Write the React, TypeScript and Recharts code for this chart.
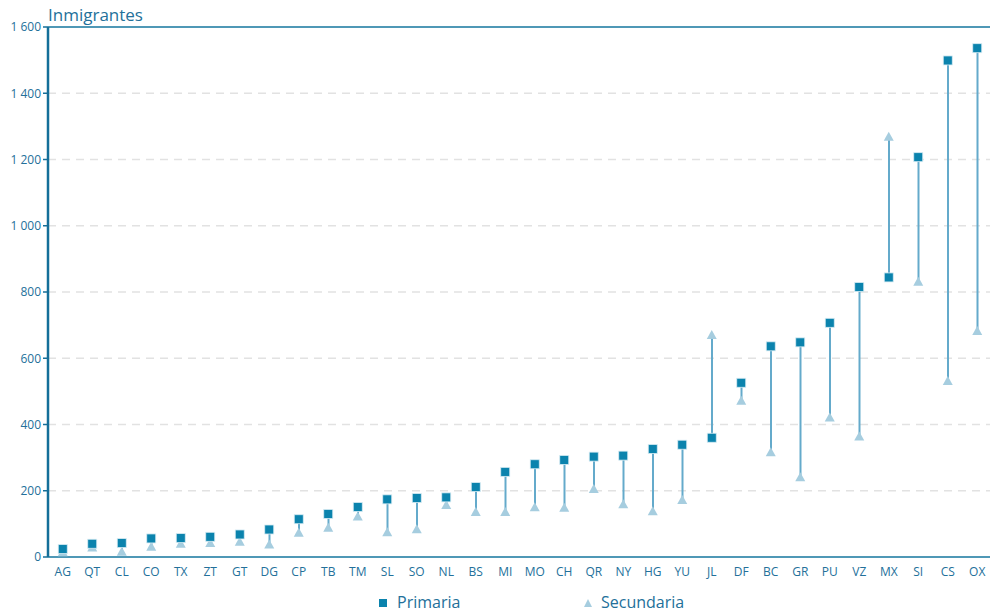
import React from 'react';
import {
  ComposedChart,
  Bar,
  Line,
  XAxis,
  YAxis,
  CartesianGrid,
  ReferenceLine,
} from 'recharts';

// Entidades federativas (orden del eje X)
const estados = [
  'AG', 'QT', 'CL', 'CO', 'TX', 'ZT', 'GT', 'DG', 'CP', 'TB', 'TM', 'SL', 'SO', 'NL', 'BS', 'MI',
  'MO', 'CH', 'QR', 'NY', 'HG', 'YU', 'JL', 'DF', 'BC', 'GR', 'PU', 'VZ', 'MX', 'SI', 'CS', 'OX',
];

// Inmigrantes con primaria
const primaria = [
  24, 40, 42, 56, 57, 61, 68, 83, 114, 130, 151, 174, 178, 180, 211, 257,
  280, 293, 303, 306, 326, 339, 360, 526, 636, 648, 707, 815, 844, 1207, 1499, 1536,
];

// Inmigrantes con secundaria
const secundaria = [
  14, 29, 16, 31, 40, 42, 46, 38, 73, 88, 122, 75, 84, 157, 136, 136,
  150, 149, 205, 159, 138, 172, 670, 472, 316, 241, 421, 364, 1269, 831, 531, 682,
];

const yTicks = [0, 200, 400, 600, 800, 1000, 1200, 1400, 1600];

const data = estados.map((e, i) => ({
  estado: e,
  primaria: primaria[i],
  secundaria: secundaria[i],
  rango: [Math.min(primaria[i], secundaria[i]), Math.max(primaria[i], secundaria[i])],
}));

const colors = {
  square: '#0b83ad',
  triangle: '#a6cddf',
  stem: '#64aacb',
  axis: '#146f99',
  frame: '#4f98b6',
  text: '#23709a',
  grid: '#e2e2e2',
};

const font = '"Open Sans", sans-serif';

// separador de miles con espacio: 1 600
const fmt = (v: number) => (v >= 1000 ? `${Math.floor(v / 1000)} ${String(v % 1000).padStart(3, '0')}` : `${v}`);

const Square = (props: any) => {
  const { cx, cy } = props;
  if (cx == null || cy == null) return null;
  return <rect x={cx - 4.5} y={cy - 4.5} width={9} height={9} fill={colors.square} stroke="#d6ebf3" strokeWidth={0.8} />;
};

const Triangle = (props: any) => {
  const { cx, cy } = props;
  if (cx == null || cy == null) return null;
  return <polygon points={`${cx},${cy - 5} ${cx - 5},${cy + 4} ${cx + 5},${cy + 4}`} fill={colors.triangle} />;
};

export default function App() {
  return (
    <div style={{ position: 'absolute', left: 0, top: 0, width: 990, height: 616, overflow: 'hidden', background: '#fff', fontFamily: font }}>
      <div style={{ position: 'absolute', left: 48, top: 3, fontSize: 17, color: colors.text }}>Inmigrantes</div>
      <ComposedChart
        width={992}
        height={580}
        data={data}
        margin={{ top: 27, right: 0, left: 0, bottom: 0 }}
      >
        <CartesianGrid vertical={false} stroke={colors.grid} strokeDasharray="8 6" strokeWidth={1.5} />
        <XAxis
          dataKey="estado"
          height={23}
          interval={0}
          tickLine={false}
          axisLine={{ stroke: colors.frame, strokeWidth: 2 }}
          tick={{ fontSize: 12, fill: colors.text, fontFamily: font }}
          tickMargin={4}
        />
        <YAxis
          width={48}
          domain={[0, 1600]}
          ticks={yTicks}
          interval={0}
          tickFormatter={fmt}
          axisLine={{ stroke: colors.axis, strokeWidth: 2.5 }}
          tickLine={{ stroke: colors.axis, strokeWidth: 1.5 }}
          tickSize={5}
          tickMargin={2}
          tick={{ fontSize: 12, fill: colors.text, fontFamily: font }}
        />
        <ReferenceLine y={1600} stroke={colors.frame} strokeWidth={2} />
        <Bar dataKey="rango" barSize={2} fill={colors.stem} isAnimationActive={false} />
        <Line dataKey="secundaria" stroke="none" dot={<Triangle />} activeDot={false} isAnimationActive={false} />
        <Line dataKey="primaria" stroke="none" dot={<Square />} activeDot={false} isAnimationActive={false} />
      </ComposedChart>
      <div style={{ position: 'absolute', top: 590, left: 0, width: 990, height: 26, fontSize: 16, color: colors.text }}>
        <svg width={10} height={10} style={{ position: 'absolute', left: 378, top: 8 }}>
          <rect x={1} y={1} width={8} height={8} fill={colors.square} />
        </svg>
        <span style={{ position: 'absolute', left: 397, top: 1 }}>Primaria</span>
        <svg width={10} height={10} style={{ position: 'absolute', left: 583, top: 8 }}>
          <polygon points="5,1 1,9 9,9" fill={colors.triangle} />
        </svg>
        <span style={{ position: 'absolute', left: 601, top: 1 }}>Secundaria</span>
      </div>
    </div>
  );
}
